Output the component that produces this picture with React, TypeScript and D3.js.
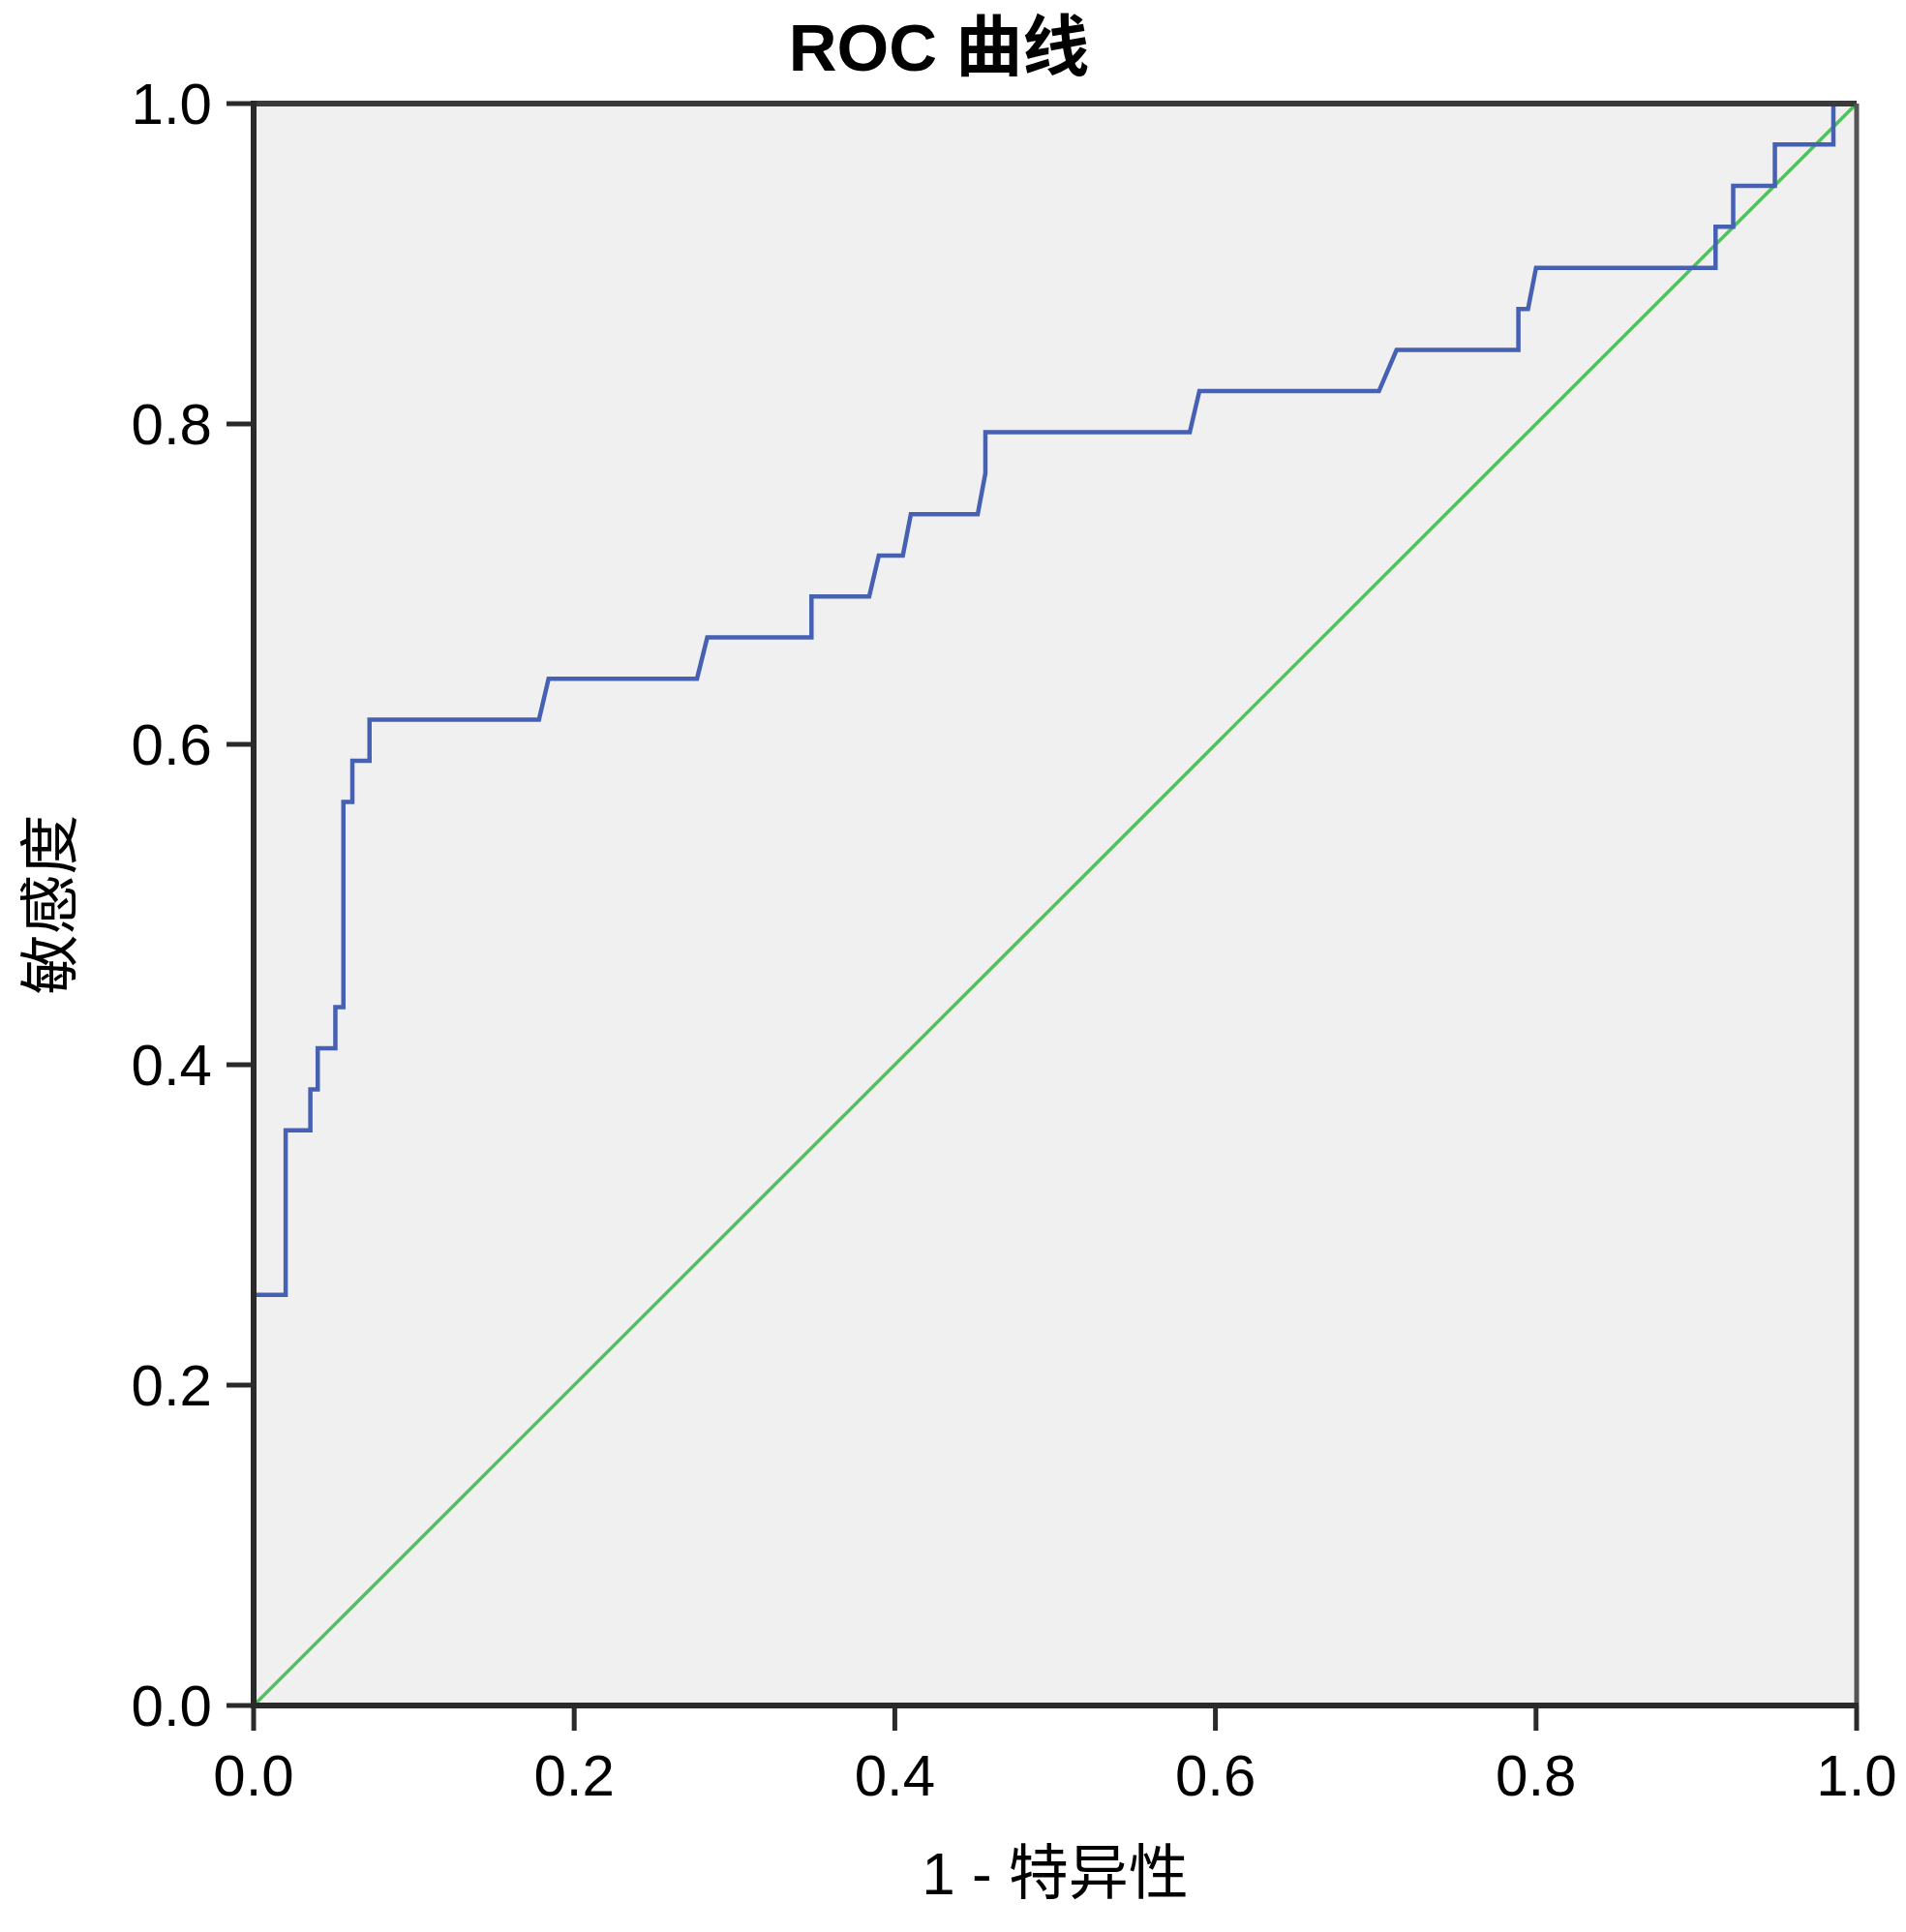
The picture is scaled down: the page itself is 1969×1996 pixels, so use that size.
import * as d3 from 'd3';

// ROC curve (1 - specificity, sensitivity)
const rocFpr = [
    0, 0, 0.020, 0.020, 0.0354, 0.0354, 0.040, 0.040, 0.051, 0.051,
    0.056, 0.056, 0.0616, 0.0616, 0.0723, 0.0723, 0.178, 0.184, 0.2766, 0.283,
    0.348, 0.348, 0.384, 0.390, 0.405, 0.410, 0.4517, 0.4565, 0.4565, 0.584,
    0.590, 0.702, 0.713, 0.789, 0.789, 0.795, 0.800, 0.912, 0.912, 0.923,
    0.923, 0.949, 0.949, 0.9855, 0.9855, 1,
];
const rocTpr = [
    0, 0.2564, 0.2564, 0.3590, 0.3590, 0.3846, 0.3846, 0.4103, 0.4103, 0.4359,
    0.4359, 0.5641, 0.5641, 0.5897, 0.5897, 0.6154, 0.6154, 0.6410, 0.6410, 0.6667,
    0.6667, 0.6923, 0.6923, 0.7179, 0.7179, 0.7436, 0.7436, 0.7692, 0.7949, 0.7949,
    0.8205, 0.8205, 0.8462, 0.8462, 0.8718, 0.8718, 0.8974, 0.8974, 0.9231, 0.9231,
    0.9487, 0.9487, 0.9744, 0.9744, 1, 1,
];
const refLine = [0, 1];
const tickValues = [0, 0.2, 0.4, 0.6, 0.8, 1.0];

const chartTitle = 'ROC 曲线';
const xTitle = '1 - 特异性';
const yTitle = '敏感度';

const W = 1969;
const H = 1996;
const plot = { left: 262, right: 1918, top: 107, bottom: 1762 };
const font = '"Liberation Sans", Arial, "Noto Sans CJK SC", sans-serif';

export default function App() {
    const x = d3.scaleLinear().domain([0, 1]).range([plot.left, plot.right]);
    const y = d3.scaleLinear().domain([0, 1]).range([plot.bottom, plot.top]);
    const fmt = d3.format('.1f');

    const line = d3.line<number>()
        .x((_, i) => x(rocFpr[i]))
        .y((_, i) => y(rocTpr[i]));
    const diag = d3.line<number>()
        .x(d => x(d))
        .y(d => y(d));

    const axisColor = '#2a2a2a';

    return (
        <div>
            <style>{'body{margin:0}'}</style>
            <svg width={W} height={H} style={{ display: 'block', background: '#fff' }} fontFamily={font}>
                <text x={970} y={73} textAnchor="middle" fontSize={69} fontWeight="bold" fill="#000">
                    {chartTitle}
                </text>

                <rect x={plot.left} y={plot.top} width={plot.right - plot.left} height={plot.bottom - plot.top}
                    fill="#f0f0f0" />

                <path d={diag(refLine) ?? ''} fill="none" stroke="#52c15c" strokeWidth={3.5} />
                <path d={line(rocFpr) ?? ''} fill="none" stroke="#4660b4" strokeWidth={4.5} strokeLinejoin="miter" />

                {/* frame */}
                <line x1={plot.left} x2={plot.right} y1={plot.top} y2={plot.top} stroke="#3a3a3a" strokeWidth={6} />
                <line x1={plot.right} x2={plot.right} y1={plot.top} y2={plot.bottom} stroke="#555" strokeWidth={5} />
                <line x1={plot.left} x2={plot.left} y1={plot.top - 3} y2={plot.bottom + 3} stroke={axisColor} strokeWidth={6} />
                <line x1={plot.left - 3} x2={plot.right + 2} y1={plot.bottom} y2={plot.bottom} stroke={axisColor} strokeWidth={6} />

                {/* y ticks */}
                {tickValues.map(t => (
                    <g key={'y' + t}>
                        <line x1={plot.left - 28} x2={plot.left} y1={y(t)} y2={y(t)} stroke={axisColor} strokeWidth={5} />
                        <text x={219} y={y(t) + 21} textAnchor="end" fontSize={60} fill="#000">{fmt(t)}</text>
                    </g>
                ))}

                {/* x ticks */}
                {tickValues.map(t => (
                    <g key={'x' + t}>
                        <line x1={x(t)} x2={x(t)} y1={plot.bottom} y2={plot.bottom + 26} stroke={axisColor} strokeWidth={5} />
                        <text x={x(t)} y={1855} textAnchor="middle" fontSize={60} fill="#000">{fmt(t)}</text>
                    </g>
                ))}

                <text x={(plot.left + plot.right) / 2} y={1957} textAnchor="middle" fontSize={62} fill="#000">
                    {xTitle}
                </text>
                <text transform={`translate(74, ${(plot.top + plot.bottom) / 2}) rotate(-90)`} textAnchor="middle"
                    fontSize={62} fill="#000">
                    {yTitle}
                </text>
            </svg>
        </div>
    );
}
